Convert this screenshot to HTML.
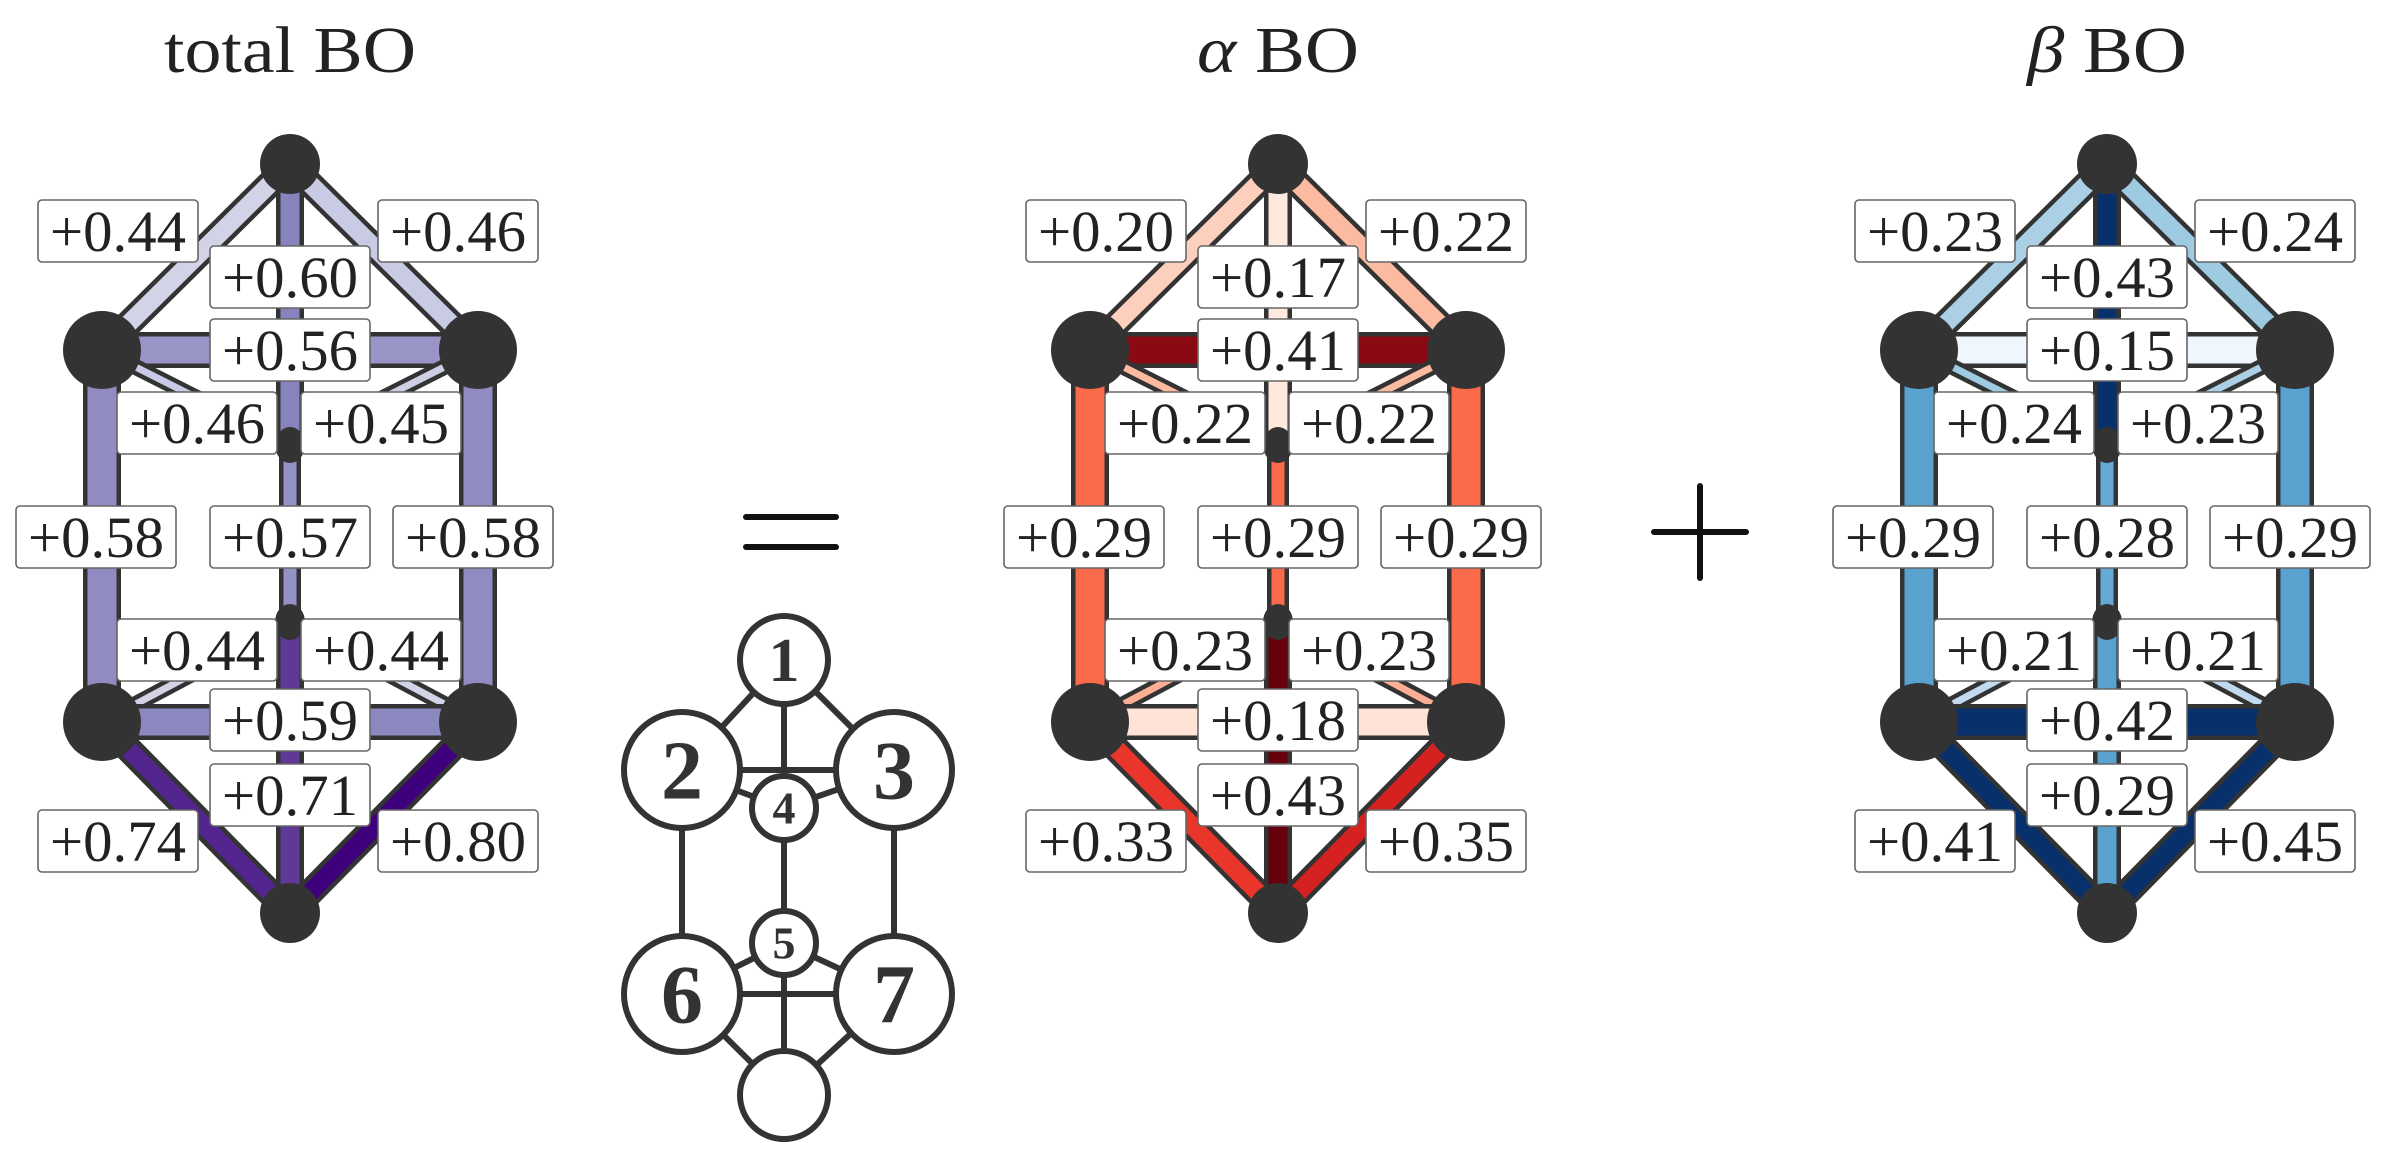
<!DOCTYPE html>
<html><head><meta charset="utf-8">
<style>
html,body{margin:0;padding:0;background:#fff;}
svg{display:block;}
text{font-family:"Liberation Serif","DejaVu Serif",serif;fill:#222;}
</style></head>
<body>
<svg id="fig" width="2397" height="1167" viewBox="0 0 2397 1167">
  <g id="panels"></g>
  <g id="schematic"></g>
  <g>
    <line x1="746" y1="517" x2="836" y2="517" stroke="#111" stroke-width="6" stroke-linecap="round"/>
    <line x1="746" y1="547" x2="836" y2="547" stroke="#111" stroke-width="6" stroke-linecap="round"/>
  </g>
  <g>
    <line x1="1654" y1="532" x2="1746" y2="532" stroke="#111" stroke-width="6" stroke-linecap="round"/>
    <line x1="1700" y1="486" x2="1700" y2="578" stroke="#111" stroke-width="6" stroke-linecap="round"/>
  </g>
</svg>
<script>
// ---- data ----
const edgeIds = ["1-2","1-3","1-4","2-3","2-4","3-4","2-6","4-5","3-7","6-5","7-5","6-7","5-8","6-8","7-8"];
const totalValues = [0.44,0.46,0.60,0.56,0.46,0.45,0.58,0.57,0.58,0.44,0.44,0.59,0.71,0.74,0.80];
const alphaValues = [0.20,0.22,0.17,0.41,0.22,0.22,0.29,0.29,0.29,0.23,0.23,0.18,0.43,0.33,0.35];
const betaValues  = [0.23,0.24,0.43,0.15,0.24,0.23,0.29,0.28,0.29,0.21,0.21,0.42,0.29,0.41,0.45];
const panelPrefixes = ["total","α","β"];

// ---- layout ----
const NS="http://www.w3.org/2000/svg";
const nodePos={1:[0,164],2:[-188,350],3:[188,350],4:[0,445],5:[0,622],6:[-188,722],7:[188,722],8:[0,913]};
const nodeR={1:[30,30],2:[39,39],3:[39,39],4:[15,18],5:[15,18],6:[39,39],7:[39,39],8:[30,30]};
const edgeW={"1-2":27,"1-3":27,"1-4":28,"2-3":36,"2-4":16,"3-4":16,"2-6":38,"4-5":22,"3-7":38,"6-5":16,"7-5":16,"6-7":36,"5-8":28,"6-8":27,"7-8":27};
const labelPos={"1-2":[-172,231],"1-3":[168,231],"1-4":[0,277],"2-3":[0,350],"2-4":[-93,423],"3-4":[91,423],"2-6":[-194,537],"4-5":[0,537],"3-7":[183,537],"6-5":[-93,650],"7-5":[91,650],"6-7":[0,720],"5-8":[0,795],"6-8":[-172,841],"7-8":[168,841]};
const panelCx=[290,1278,2107];
const titleLen=[252,162,160];
const cmaps=[
 {stops:["#fcfbfd","#efedf5","#dadaeb","#bcbddc","#9e9ac8","#807dba","#6a51a3","#54278f","#3f007d"],vmin:0.30,vmax:0.80},
 {stops:["#fff5f0","#fee0d2","#fcbba1","#fc9272","#fb6a4a","#ef3b2c","#cb181d","#a50f15","#67000d"],vmin:0.15,vmax:0.43},
 {stops:["#f7fbff","#deebf7","#c6dbef","#9ecae1","#6baed6","#4292c6","#2171b5","#08519c","#08306b"],vmin:0.14,vmax:0.41}
];
function hex(h){return [1,3,5].map(i=>parseInt(h.substr(i,2),16));}
function color(cm,v){
  let t=(v-cm.vmin)/(cm.vmax-cm.vmin);t=Math.max(0,Math.min(1,t));
  const n=cm.stops.length-1,f=t*n,i=Math.min(n-1,Math.floor(f)),u=f-i;
  const a=hex(cm.stops[i]),b=hex(cm.stops[i+1]);
  return "rgb("+a.map((x,k)=>Math.round(x+(b[k]-x)*u)).join(",")+")";
}
function mk(tag,attrs,parent){const e=document.createElementNS(NS,tag);for(const k in attrs)e.setAttribute(k,attrs[k]);parent.appendChild(e);return e;}

const panels=document.getElementById("panels");
const allValues=[totalValues,alphaValues,betaValues];
const panelNames=["total","alpha","beta"];
for(let p=0;p<3;p++){
  const cx=panelCx[p],vals=allValues[p],cm=cmaps[p];
  const g=mk("g",{},panels);
  
  
  const t=mk("text",{x:cx,y:72,"text-anchor":"middle","font-size":66,textLength:titleLen[p],lengthAdjust:"spacingAndGlyphs"},g);
  
  
  const s1=mk("tspan",{},t);
  s1.textContent=panelPrefixes[p];
  if(p>0) s1.setAttribute("font-style","italic");
  const s2=mk("tspan",{},t);
  s2.textContent=" BO";
  const eg=mk("g",{},g);
  edgeIds.forEach((id,i)=>{
    const [a,b]=id.split("-");
    const A=nodePos[a],B=nodePos[b],w=edgeW[id];
    const o=mk("line",{x1:cx+A[0],y1:A[1],x2:cx+B[0],y2:B[1],stroke:"#333","stroke-width":w},eg);
    
    
    const c=mk("line",{x1:cx+A[0],y1:A[1],x2:cx+B[0],y2:B[1],stroke:color(cm,vals[i]),"stroke-width":w-9},eg);
    
    
  });
  for(const n in nodePos){
    const e=mk("ellipse",{cx:cx+nodePos[n][0],cy:nodePos[n][1],rx:nodeR[n][0],ry:nodeR[n][1],fill:"#333"},g);
    
    
  }
  edgeIds.forEach((id,i)=>{
    const L=labelPos[id],x=cx+L[0],y=L[1];
    const lg=mk("g",{},g);
    
    
    mk("rect",{x:x-80,y:y-31,width:160,height:62,rx:4,fill:"#fff",stroke:"#666","stroke-width":1.6},lg);
    const tx=mk("text",{x:x,y:y+20,"text-anchor":"middle","font-size":58,textLength:136,lengthAdjust:"spacingAndGlyphs"},lg);
    tx.textContent="+"+vals[i].toFixed(2);
  });
}

// schematic
const sch=document.getElementById("schematic");
const sPos={1:[784,660],2:[682,770],3:[894,770],4:[784,808],5:[784,943],6:[682,994],7:[894,994],8:[784,1095]};
const sR={1:44,2:58,3:58,4:32,5:32,6:58,7:58,8:44};
const sFont={1:62,2:84,3:84,4:46,5:46,6:84,7:84,8:0};
edgeIds.forEach(id=>{
  const [a,b]=id.split("-");
  const l=mk("line",{x1:sPos[a][0],y1:sPos[a][1],x2:sPos[b][0],y2:sPos[b][1],stroke:"#333","stroke-width":6},sch);
  
  
});
for(const n in sPos){
  const c=mk("circle",{cx:sPos[n][0],cy:sPos[n][1],r:sR[n],fill:"#fff",stroke:"#333","stroke-width":6},sch);
  
  
  if(sFont[n]){
    const t=mk("text",{x:sPos[n][0],y:sPos[n][1]+sFont[n]*0.34,"text-anchor":"middle","font-size":sFont[n],"font-weight":"bold"},sch);
    t.setAttribute("style","fill:#333");
    t.textContent=n;
  }
}
</script>
</body></html>
